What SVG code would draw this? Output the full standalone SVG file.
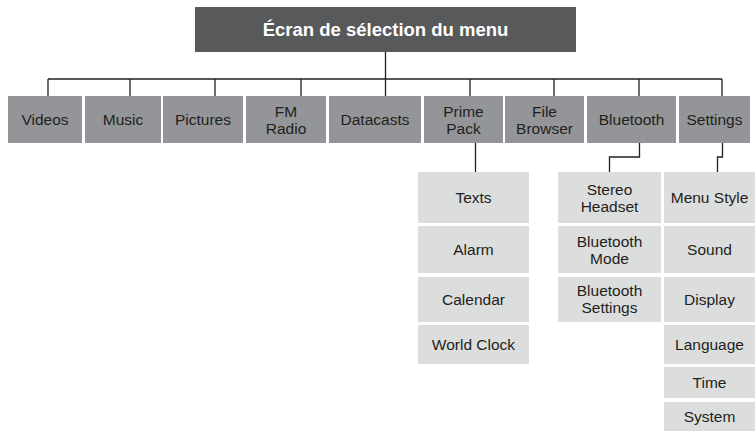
<svg xmlns="http://www.w3.org/2000/svg" width="756" height="432" viewBox="0 0 756 432">
<style>
.title{fill:#58595b}
.top{fill:#939598}
.sub{fill:#dcdddd}
text{font-family:"Liberation Sans",Arial,sans-serif;font-size:15.5px;fill:#231f20;text-anchor:middle}
.tt{font-weight:bold;font-size:18.5px;fill:#ffffff}
.ln{fill:none;stroke:#231f20;stroke-width:1.3}
</style>
<rect width="756" height="432" fill="#ffffff"/>
<g id="connectors">
<path class="ln" d="M385.5 52V79M48 79H722M48 79V96M130 79V96M215 79V96M301 79V96M385.5 79V96M470 79V96M554 79V96M639 79V96M722 79V96"/>
<path class="ln" d="M475.5 143V172"/>
<path class="ln" d="M639.5 143V157H609.5V172"/>
<path class="ln" d="M722.5 143V157H717.5V172"/>
</g>
<g id="root"><rect class="title" x="195" y="7" width="381" height="45"/><text class="tt" x="385.5" y="36">Écran de sélection du menu</text></g>
<g id="videos"><rect class="top" x="8" y="96" width="74" height="47"/><text x="45" y="125">Videos</text></g>
<g id="music"><rect class="top" x="85" y="96" width="76" height="47"/><text x="123" y="125">Music</text></g>
<g id="pictures"><rect class="top" x="163" y="96" width="80" height="47"/><text x="203" y="125">Pictures</text></g>
<g id="fmradio"><rect class="top" x="246" y="96" width="80" height="47"/><text x="286" y="116.5">FM</text><text x="286" y="133.5">Radio</text></g>
<g id="datacasts"><rect class="top" x="329" y="96" width="92" height="47"/><text x="375" y="125">Datacasts</text></g>
<g id="primepack"><rect class="top" x="424" y="96" width="79" height="47"/><text x="463.5" y="116.5">Prime</text><text x="463.5" y="133.5">Pack</text></g>
<g id="filebrowser"><rect class="top" x="505" y="96" width="79" height="47"/><text x="544.5" y="116.5">File</text><text x="544.5" y="133.5">Browser</text></g>
<g id="bluetooth"><rect class="top" x="587" y="96" width="89" height="47"/><text x="631.5" y="125">Bluetooth</text></g>
<g id="settings"><rect class="top" x="679" y="96" width="71" height="47"/><text x="714.5" y="125">Settings</text></g>
<g id="texts"><rect class="sub" x="418" y="172" width="111" height="51"/><text x="473.5" y="203">Texts</text></g>
<g id="alarm"><rect class="sub" x="418" y="226" width="111" height="47"/><text x="473.5" y="255">Alarm</text></g>
<g id="calendar"><rect class="sub" x="418" y="277" width="111" height="45"/><text x="473.5" y="305">Calendar</text></g>
<g id="worldclock"><rect class="sub" x="418" y="325" width="111" height="39"/><text x="473.5" y="350">World Clock</text></g>
<g id="stereoheadset"><rect class="sub" x="558" y="172" width="103" height="51"/><text x="609.5" y="195">Stereo</text><text x="609.5" y="212">Headset</text></g>
<g id="btmode"><rect class="sub" x="558" y="226" width="103" height="47"/><text x="609.5" y="246.5">Bluetooth</text><text x="609.5" y="263.5">Mode</text></g>
<g id="btsettings"><rect class="sub" x="558" y="277" width="103" height="45"/><text x="609.5" y="296">Bluetooth</text><text x="609.5" y="313">Settings</text></g>
<g id="menustyle"><rect class="sub" x="664" y="172" width="91" height="51"/><text x="709.5" y="203">Menu Style</text></g>
<g id="sound"><rect class="sub" x="664" y="226" width="91" height="47"/><text x="709.5" y="255">Sound</text></g>
<g id="display"><rect class="sub" x="664" y="277" width="91" height="45"/><text x="709.5" y="305">Display</text></g>
<g id="language"><rect class="sub" x="664" y="325" width="91" height="39"/><text x="709.5" y="350">Language</text></g>
<g id="time"><rect class="sub" x="664" y="367" width="91" height="31"/><text x="709.5" y="388">Time</text></g>
<g id="system"><rect class="sub" x="664" y="402" width="91" height="29"/><text x="709.5" y="422">System</text></g>
</svg>
